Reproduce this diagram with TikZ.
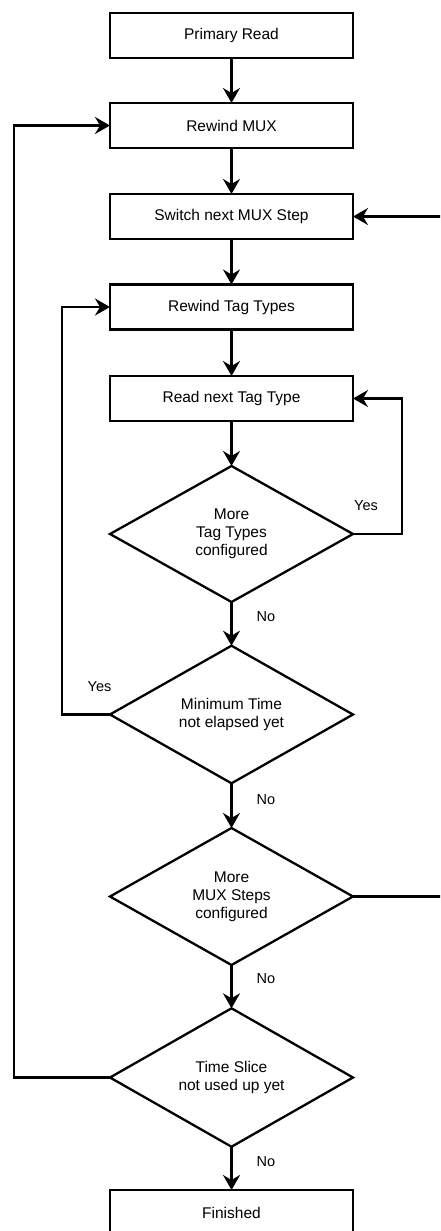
\documentclass[tikz,border=0pt]{standalone}
\usepackage{fontspec}
\setmainfont{Liberation Sans}
\usetikzlibrary{shapes.geometric,arrows.meta}
\tikzset{
  procbox/.style={draw, line width=2.3pt, rectangle, minimum width=243pt, minimum height=45pt, inner sep=0pt, outer sep=0pt, font=\fontsize{15.5}{18}\selectfont, align=center},
  decbox/.style={draw, line width=2.3pt, diamond, minimum width=243pt, minimum height=136pt, inner sep=0pt, outer sep=0pt, font=\fontsize{15.5}{18}\selectfont, align=center},
  conn/.style={line width=2.3pt, -{Stealth[length=15pt,width=17pt,inset=5pt]}},
  lbl/.style={font=\fontsize{14.5}{17}\selectfont, inner sep=0pt}
}
\begin{document}
\begin{tikzpicture}[x=1pt,y=-1pt]
\clip (0,0) rectangle (440,1231);
\node[procbox] (pr) at (231.5,35.5) {Primary Read};
\node[procbox] (rm) at (231.5,125.5) {Rewind MUX};
\node[procbox] (sw) at (231.5,216.5) {Switch next MUX Step};
\node[procbox] (rt) at (231.5,307) {Rewind Tag Types};
\node[procbox] (rn) at (231.5,398.5) {Read next Tag Type};
\node[decbox] (d1) at (231.5,534) {More\\Tag Types\\configured};
\node[decbox, minimum height=135pt] (d2) at (231.5,714.5) {Minimum Time\\not elapsed yet};
\node[decbox, minimum height=137pt] (d3) at (231.5,896.5) {More\\MUX Steps\\configured};
\node[decbox, minimum height=137pt] (d4) at (231.5,1077.5) {Time Slice\\not used up yet};
\node[procbox] (fin) at (231.5,1212.5) {Finished};

\coordinate (yr) at (402,0);
\coordinate (yl) at (62,0);
\coordinate (xr) at (448,0);
\coordinate (xl) at (14,0);

\draw[conn] (pr) -- (rm);
\draw[conn] (rm) -- (sw);
\draw[conn] (sw) -- (rt);
\draw[conn] (rt) -- (rn);
\draw[conn] (rn) -- (d1);
\draw[conn] (d1) -- (d2);
\draw[conn] (d2) -- (d3);
\draw[conn] (d3) -- (d4);
\draw[conn] (d4) -- (fin);

\draw[conn] (d1.east) -- (d1.east -| yr) |- (rn.east);
\draw[conn] (d2.west) -- (d2.west -| yl) |- (rt.west);
\draw[conn] (d3.east) -- (d3.east -| xr) |- (sw.east);
\draw[conn] (d4.west) -- (d4.west -| xl) |- (rm.west);

\node[lbl] (l1) at (366,506) {Yes};
\node[lbl] (l2) at (266,617) {No};
\node[lbl] (l3) at (99.5,687) {Yes};
\node[lbl] (l4) at (266,800) {No};
\node[lbl] (l5) at (266,979) {No};
\node[lbl] (l6) at (266,1162) {No};
\end{tikzpicture}
\end{document}
